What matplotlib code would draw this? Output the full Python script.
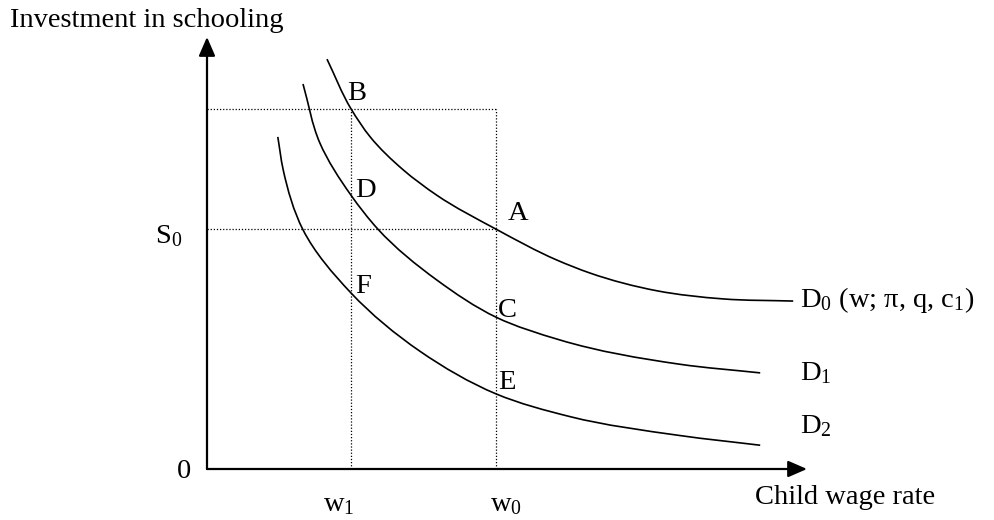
import matplotlib
matplotlib.use('Agg')
import matplotlib.pyplot as plt
import numpy as np
from matplotlib.path import Path
from matplotlib.patches import PathPatch

plt.rcParams['font.family'] = ['Liberation Serif', 'DejaVu Serif']
plt.rcParams['mathtext.fontset'] = 'custom'
plt.rcParams['mathtext.rm'] = 'Liberation Serif'

# wage levels and schooling levels (axis units)
w1 = 2.40
w0 = 4.82
s0 = 4.44
s_top = 6.67

# demand curves
d0_x = [2.00, 2.40, 2.72, 3.27, 3.83, 4.82, 5.83, 6.38, 7.50, 8.60, 9.77]
d0_y = [7.59, 6.67, 6.15, 5.54, 5.07, 4.44, 3.87, 3.63, 3.30, 3.15, 3.11]

d1_x = [1.60, 1.88, 2.40, 2.85, 3.83, 4.82, 5.88, 7.88, 9.22]
d1_y = [7.13, 6.04, 5.07, 4.44, 3.50, 2.81, 2.39, 1.94, 1.78]

d2_x = [1.18, 1.27, 1.60, 2.40, 3.55, 4.82, 6.05, 7.88, 9.22]
d2_y = [6.15, 5.54, 4.43, 3.26, 2.18, 1.39, 0.97, 0.62, 0.44]


def smooth_curve(xs, ys):
    # smooth bezier path through the read points
    p = np.column_stack([xs, ys])
    seg = np.hypot(*np.diff(p, axis=0).T)
    t = np.concatenate([[0], np.cumsum(seg)])
    m = np.gradient(p, t, axis=0)
    verts = [p[0]]
    codes = [Path.MOVETO]
    for i in range(len(p) - 1):
        h = t[i + 1] - t[i]
        verts += [p[i] + m[i] * h / 3, p[i + 1] - m[i + 1] * h / 3, p[i + 1]]
        codes += [Path.CURVE4] * 3
    return Path(verts, codes)


fig = plt.figure(figsize=(9.95, 5.2), dpi=100)
ax = fig.add_axes([207 / 995, 51 / 520, 600 / 995, 432 / 520])
ax.set_xlim(0, 10)
ax.set_ylim(0, 8)
ax.set_axis_off()

fs = 20.5

# axes with arrow heads
arrow = dict(arrowstyle='-|>,head_length=1.15,head_width=0.5', mutation_scale=10,
             lw=1.6, color='black', shrinkA=0, shrinkB=0)
ax.annotate('', xy=(0, 8), xytext=(0, 0), arrowprops=arrow, annotation_clip=False)
ax.annotate('', xy=(10, 0), xytext=(0, 0), arrowprops=arrow, annotation_clip=False)

# dotted guide lines
dot = dict(color='black', lw=0.9, linestyle=(0, (1, 1.5)))
ax.plot([0, w0], [s_top, s_top], **dot)
ax.plot([0, w0], [s0, s0], **dot)
ax.plot([w1, w1], [0, s_top], **dot)
ax.plot([w0, w0], [0, s_top], **dot)

# curves
for cx, cy in [(d0_x, d0_y), (d1_x, d1_y), (d2_x, d2_y)]:
    ax.add_patch(PathPatch(smooth_curve(cx, cy), fill=False, lw=1.2,
                           edgecolor='black', clip_on=False))

# point labels
ax.text(2.33, 6.83, 'B', fontsize=fs)
ax.text(2.47, 5.04, 'D', fontsize=fs)
ax.text(5.02, 4.61, 'A', fontsize=fs)
ax.text(2.47, 3.26, 'F', fontsize=fs)
ax.text(4.85, 2.81, 'C', fontsize=fs)
ax.text(4.85, 1.48, 'E', fontsize=fs)

# axis labels
ax.text(-0.87, 4.19, r'$\mathregular{S_0}$', fontsize=fs)
ax.text(-0.5, -0.17, '0', fontsize=fs)
ax.text(1.93, -0.78, r'$\mathregular{w_1}$', fontsize=fs)
ax.text(4.72, -0.78, r'$\mathregular{w_0}$', fontsize=fs)
ax.text(9.13, -0.65, 'Child wage rate', fontsize=fs)
ax.text(-3.28, 8.19, 'Investment in schooling', fontsize=fs)

# curve labels
ax.text(9.88, 3.0, r'$\mathregular{D_0}$ (w; π, q, c$\mathregular{_1}$)', fontsize=fs)
ax.text(9.88, 1.65, r'$\mathregular{D_1}$', fontsize=fs)
ax.text(9.88, 0.67, r'$\mathregular{D_2}$', fontsize=fs)

fig.savefig('out.png', dpi=100)
